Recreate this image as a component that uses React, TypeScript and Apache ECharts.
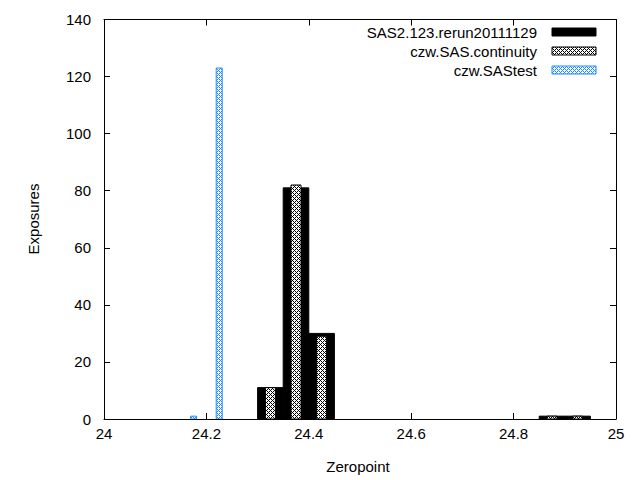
import React, { useEffect, useRef } from "react";
import * as echarts from "echarts";

const seriesNames = ["SAS2.123.rerun20111129", "czw.SAS.continuity", "czw.SAStest"];

const sasX = [24.325, 24.375, 24.425, 24.875, 24.925];
const sasY = [11, 81, 30, 1, 1];

const contX = [24.325, 24.375, 24.425, 24.875, 24.925];
const contY = [11, 82, 29, 1, 1];

const testX = [24.175, 24.225];
const testY = [1, 123];

const xMin = 24;
const xMax = 25;
const xStep = 0.2;
const yMin = 0;
const yMax = 140;
const yStep = 20;

const binWidth = 0.05;

const FONT = '"Liberation Sans", Arial, sans-serif';

function makeTile(color: string) {
  const c = document.createElement("canvas");
  c.width = 4;
  c.height = 4;
  const ctx = c.getContext("2d")!;
  ctx.fillStyle = "#ffffff";
  ctx.fillRect(0, 0, 4, 4);
  ctx.fillStyle = color;
  for (let y = 0; y < 4; y++) {
    for (let x = 0; x < 4; x++) {
      if ((x + y) % 4 === 0 || (x - y + 4) % 4 === 0) ctx.fillRect(x, y, 1, 1);
    }
  }
  return c;
}

export default function App() {
  const ref = useRef<HTMLDivElement>(null);

  useEffect(() => {
    document.body.style.margin = "0";
    if (!ref.current) return;
    const chart = echarts.init(ref.current, undefined, { renderer: "svg" });

    const blue = "#1e8cff";
    const greyPattern: any = { image: makeTile("#000000"), repeat: "repeat", imageWidth: 4, imageHeight: 4 };
    const bluePattern: any = { image: makeTile(blue), repeat: "repeat", imageWidth: 4, imageHeight: 4 };

    const makeRender = (pxWidth: number | null, fill: any, stroke: string) => (params: any, api: any) => {
      const x = api.value(0);
      const y = api.value(1);
      const top = api.coord([x, y]);
      const base = api.coord([x, 0]);
      const w = pxWidth == null ? api.size([binWidth, 0])[0] : pxWidth;
      return {
        type: "rect",
        shape: { x: top[0] - w / 2, y: top[1], width: w, height: base[1] - top[1] },
        style: { fill, stroke, lineWidth: 1 },
      };
    };

    const axisCommon = {
      axisLine: { onZero: false, lineStyle: { color: "#000", width: 1 } },
      axisTick: { inside: true, length: 6, lineStyle: { color: "#000", width: 1 } },
      splitLine: { show: false },
    };

    const legendRows = [32, 51, 70];
    const legendFills = [
      { fill: "#000", stroke: "#000" },
      { fill: greyPattern, stroke: "#000" },
      { fill: bluePattern, stroke: blue },
    ];
    const legendGraphics: any[] = [];
    seriesNames.forEach((name, i) => {
      legendGraphics.push({
        type: "text",
        x: 537,
        y: legendRows[i],
        style: {
          text: name,
          font: `15px ${FONT}`,
          fill: "#000",
          align: "right",
          textAlign: "right",
          verticalAlign: "middle",
          textVerticalAlign: "middle",
        },
      });
      legendGraphics.push({
        type: "rect",
        shape: { x: 552, y: legendRows[i] - 4, width: 44, height: 8 },
        style: { fill: legendFills[i].fill, stroke: legendFills[i].stroke, lineWidth: 1 },
      });
    });

    chart.setOption({
      animation: false,
      backgroundColor: "#fff",
      grid: { left: 104, right: 24, top: 19.5, bottom: 61, containLabel: false },
      xAxis: [
        {
          type: "value",
          min: xMin,
          max: xMax,
          interval: xStep,
          position: "bottom",
          ...axisCommon,
          axisLabel: { color: "#000", fontFamily: FONT, fontSize: 15, margin: 7 },
        },
        {
          type: "value",
          min: xMin,
          max: xMax,
          interval: xStep,
          position: "top",
          ...axisCommon,
          axisLabel: { show: false },
        },
      ],
      yAxis: [
        {
          type: "value",
          min: yMin,
          max: yMax,
          interval: yStep,
          position: "left",
          ...axisCommon,
          axisLabel: { color: "#000", fontFamily: FONT, fontSize: 15, margin: 13 },
        },
        {
          type: "value",
          min: yMin,
          max: yMax,
          interval: yStep,
          position: "right",
          ...axisCommon,
          axisLabel: { show: false },
        },
      ],
      series: [
        {
          type: "custom",
          name: seriesNames[0],
          xAxisIndex: 0,
          yAxisIndex: 0,
          renderItem: makeRender(null, "#000", "#000"),
          data: sasX.map((x, i) => [x, sasY[i]]),
          encode: { x: 0, y: 1 },
          clip: true,
        },
        {
          type: "custom",
          name: seriesNames[1],
          xAxisIndex: 0,
          yAxisIndex: 0,
          renderItem: makeRender(10, greyPattern, "#000"),
          data: contX.map((x, i) => [x, contY[i]]),
          encode: { x: 0, y: 1 },
          clip: true,
        },
        {
          type: "custom",
          name: seriesNames[2],
          xAxisIndex: 0,
          yAxisIndex: 0,
          renderItem: makeRender(6, bluePattern, blue),
          data: testX.map((x, i) => [x, testY[i]]),
          encode: { x: 0, y: 1 },
          clip: true,
        },
      ],
      graphic: [
        {
          type: "text",
          x: 33,
          y: 219,
          rotation: Math.PI / 2,
          style: {
            text: "Exposures",
            font: `15px ${FONT}`,
            fill: "#000",
            align: "center",
            textAlign: "center",
            verticalAlign: "middle",
            textVerticalAlign: "middle",
          },
        },
        {
          type: "text",
          x: 358,
          y: 466,
          style: {
            text: "Zeropoint",
            font: `15px ${FONT}`,
            fill: "#000",
            align: "center",
            textAlign: "center",
            verticalAlign: "middle",
            textVerticalAlign: "middle",
          },
        },
        ...legendGraphics,
      ],
    });

    return () => chart.dispose();
  }, []);

  return <div ref={ref} style={{ width: 640, height: 480 }} />;
}
